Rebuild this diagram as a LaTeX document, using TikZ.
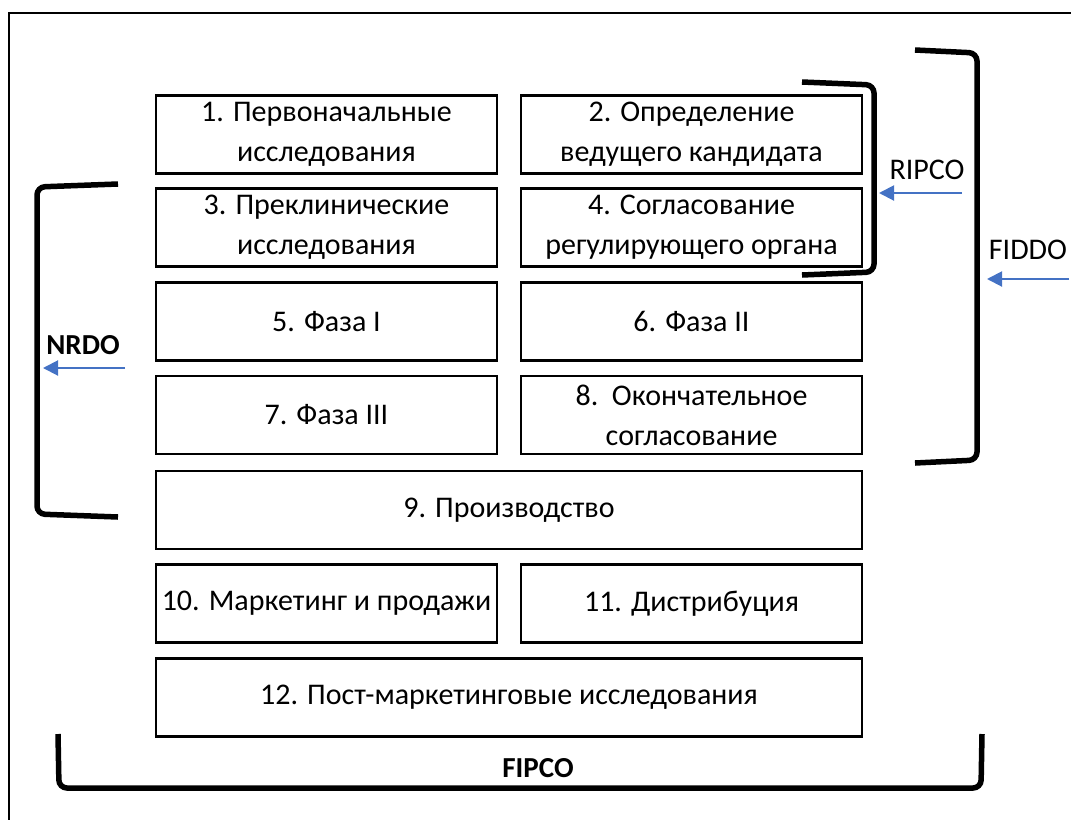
\documentclass[tikz,border=0pt]{standalone}
\usepackage{fontspec}
\setmainfont{Carlito}
\usetikzlibrary{arrows.meta}
\begin{document}
\begin{tikzpicture}[x=1pt,y=-1pt,
  box/.style={draw, line width=2.5pt, minimum height=78pt, inner sep=0pt, align=center,
    font=\fontsize{30}{40}\selectfont},
  half/.style={box, minimum width=341pt},
  full/.style={box, minimum width=706pt},
  brk/.style={draw, line width=5.5pt, rounded corners=8pt},
  lbl/.style={font=\fontsize{30}{34}\selectfont, inner sep=0pt},
  blbl/.style={font=\fontsize{29}{34}\selectfont\bfseries, inner sep=0pt},
  barrow/.style={draw=arrowblue, line width=2pt, -{Triangle[length=15pt,width=15pt]}}
]
\definecolor{arrowblue}{HTML}{4472C4}
\useasboundingbox (0,0) rectangle (1071,820);
% frame
\draw[line width=2pt] (1071,13) -- (9,13) -- (9,820);
% boxes
\node[half] (b1) at (326.5,134.5) {1. Первоначальные\\исследования};
\node[half] (b2) at (691.5,134.5) {2. Определение\\ведущего кандидата};
\node[half] (b3) at (326.5,227.5) {3. Преклинические\\исследования};
\node[half] (b4) at (691.5,227.5) {4. Согласование\\регулирующего органа};
\node[half] (b5) at (326.5,321.5) {5. Фаза I};
\node[half] (b6) at (691.5,321.5) {6. Фаза II};
\node[half] (b7) at (326.5,415) {7. Фаза III};
\node[half] (b8) at (691.5,415) {8.\ \ Окончательное\\согласование};
\node[full] (b9) at (509,510) {9. Производство};
\node[half] (b10) at (326.5,603.5) {10. Маркетинг и продажи};
\node[half] (b11) at (691.5,603.5) {11. Дистрибуция};
\node[full] (b12) at (509,697.5) {12. Пост-маркетинговые исследования};
% brackets
\draw[brk] (802,82) -- (874,85) -- (874,272) -- (802,275);
\draw[brk] (915,50) -- (977,53) -- (977,460) -- (915,463);
\draw[brk] (118,184) -- (37,187) -- (37,514) -- (118,517);
\draw[brk] (58,734) -- (59,788) -- (981,788) -- (982,734);
% labels
\node[lbl] (ripco) at (927,170) {RIPCO};
\node[lbl] (fiddo) at (1028,250) {FIDDO};
\node[blbl] (nrdo) at (83,345) {NRDO};
\node[blbl] (fipco) at (538,768) {FIPCO};
% arrows
\coordinate (r1) at (962,193); \coordinate (r2) at (879,193);
\coordinate (f1) at (1069,279); \coordinate (f2) at (987,279);
\coordinate (n1) at (125,368); \coordinate (n2) at (43,368);
\draw[barrow] (r1) -- (r2);
\draw[barrow] (f1) -- (f2);
\draw[barrow] (n1) -- (n2);
\end{tikzpicture}
\end{document}
